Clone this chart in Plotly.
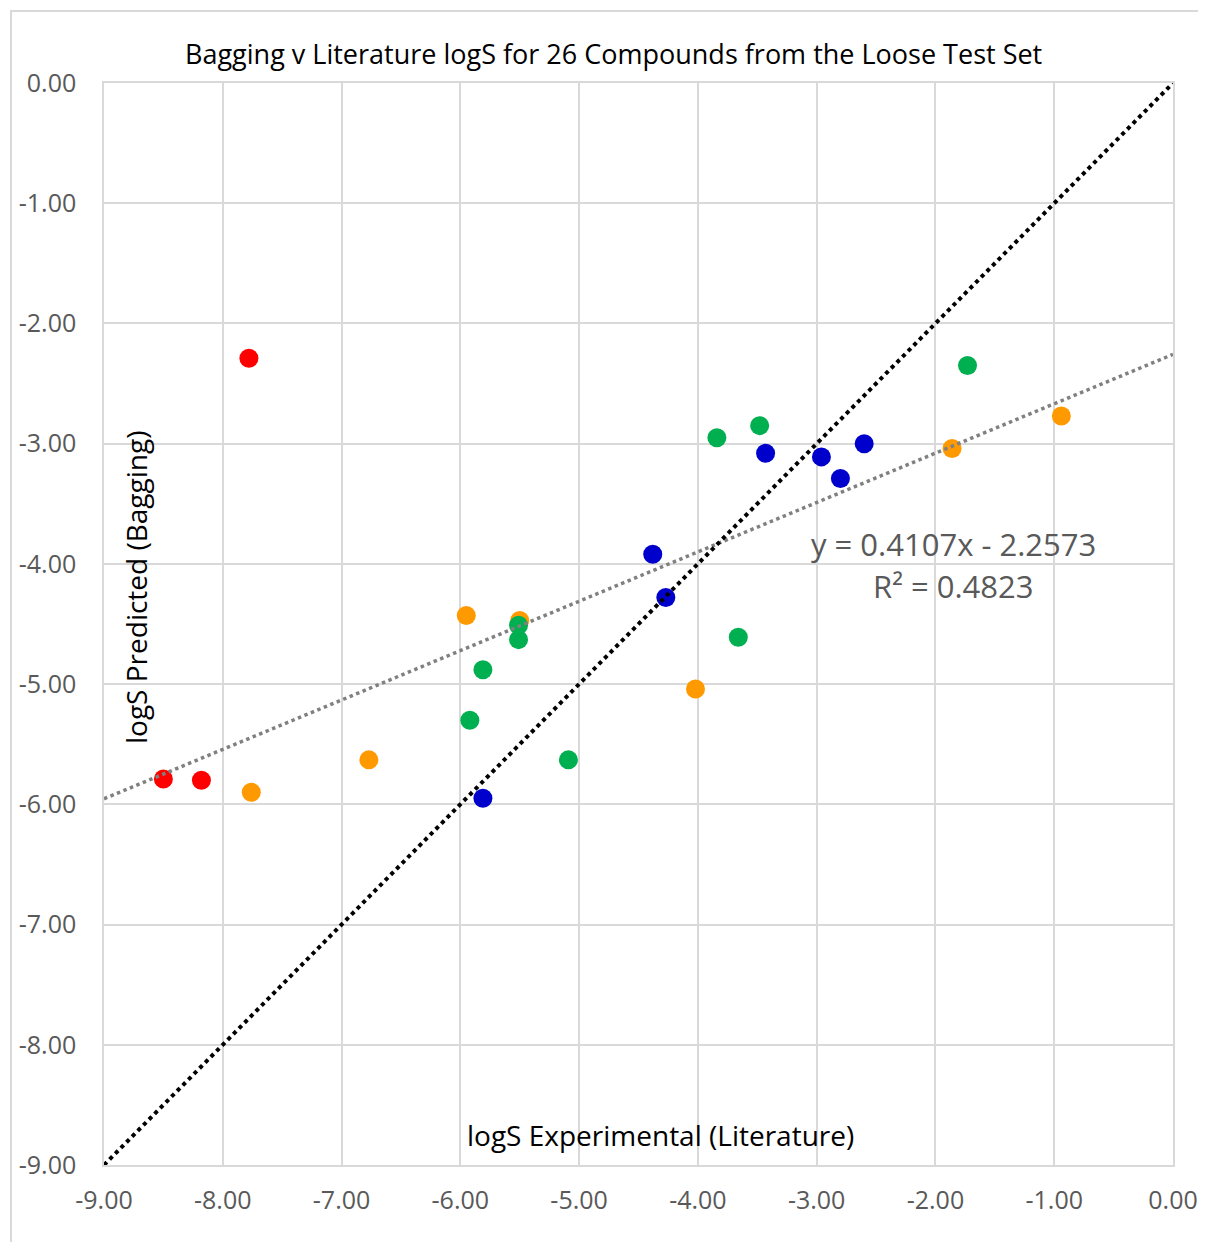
import plotly.graph_objects as go

# Data
red_x = [-7.78, -8.50, -8.18]
red_y = [-2.29, -5.79, -5.80]

orange_x = [-7.76, -6.77, -5.95, -5.50, -4.02, -1.86, -0.94]
orange_y = [-5.90, -5.63, -4.43, -4.47, -5.04, -3.04, -2.77]

green_x = [-1.73, -3.48, -3.84, -5.51, -5.51, -5.81, -5.92, -5.09, -3.66]
green_y = [-2.35, -2.85, -2.95, -4.51, -4.63, -4.88, -5.30, -5.63, -4.61]

blue_x = [-4.38, -4.27, -5.81, -3.43, -2.96, -2.80, -2.60]
blue_y = [-3.92, -4.28, -5.95, -3.08, -3.11, -3.29, -3.00]

trend_slope = 0.4107
trend_intercept = -2.2573
line_x = [-9.0, 0.0]

tick_vals = [-9, -8, -7, -6, -5, -4, -3, -2, -1, 0]
tick_text = ["-9.00", "-8.00", "-7.00", "-6.00", "-5.00", "-4.00", "-3.00", "-2.00", "-1.00", "0.00"]

FONT = "Open Sans"
OFF = 8  # page body margin
W, H = 1206 - 2 * OFF, 1250 - 2 * OFF
# plot area in page pixels: left 104, top 83, right 1173, bottom 1165
L = 104 - OFF
T = 83 - OFF
R = W - (1173 - OFF)
B = H - (1165 - OFF)

fig = go.Figure()
marker_size = 19
for xs, ys, col in [(red_x, red_y, "#FF0000"), (orange_x, orange_y, "#FF9900"),
                    (green_x, green_y, "#00B050"), (blue_x, blue_y, "#0000CC")]:
    fig.add_trace(go.Scatter(x=xs, y=ys, mode="markers",
                             marker=dict(size=marker_size, color=col, line=dict(width=0)),
                             showlegend=False, hoverinfo="x+y"))

fig.add_trace(go.Scatter(x=line_x, y=[trend_slope * v + trend_intercept for v in line_x],
                         mode="lines", line=dict(color="#808080", width=3.5, dash="dot"),
                         showlegend=False, hoverinfo="skip"))
fig.add_trace(go.Scatter(x=line_x, y=line_x, mode="lines",
                         line=dict(color="#000000", width=4, dash="dot"),
                         showlegend=False, hoverinfo="skip"))

pw = W - L - R
ph = H - T - B
def px_x(p):  # page px -> paper coordinate
    return (p - OFF - L) / pw
def px_y(p):
    return (H - B - (p - OFF)) / ph

fig.add_shape(type="rect", xref="paper", yref="paper",
              x0=px_x(11), x1=px_x(1204), y0=px_y(1248), y1=px_y(11),
              line=dict(color="#d9d9d9", width=2), layer="below")

fig.add_annotation(text="Bagging v Literature logS for 26 Compounds from the Loose Test Set",
                   xref="paper", yref="paper", x=px_x(613), y=px_y(53),
                   showarrow=False, font=dict(family=FONT, size=27, color="#000000"),
                   xanchor="center", yanchor="middle")
fig.add_annotation(text="logS Experimental (Literature)", xref="paper", yref="paper",
                   x=px_x(660), y=px_y(1135), showarrow=False,
                   font=dict(family=FONT, size=28, color="#000000"),
                   xanchor="center", yanchor="middle")
fig.add_annotation(text="logS Predicted (Bagging)", xref="paper", yref="paper",
                   x=px_x(136), y=px_y(588), showarrow=False, textangle=-90,
                   font=dict(family=FONT, size=28, color="#000000"),
                   xanchor="center", yanchor="middle")
fig.add_annotation(text=f"y = {trend_slope}x - {abs(trend_intercept)}", xref="paper", yref="paper",
                   x=px_x(953), y=px_y(544), showarrow=False,
                   font=dict(family=FONT, size=31, color="#595959"),
                   xanchor="center", yanchor="middle")
fig.add_annotation(text="R² = 0.4823", xref="paper", yref="paper",
                   x=px_x(953), y=px_y(586), showarrow=False,
                   font=dict(family=FONT, size=31, color="#595959"),
                   xanchor="center", yanchor="middle")

axis_common = dict(showgrid=True, gridcolor="#d9d9d9", gridwidth=1.5,
                   zeroline=False, showline=True, linecolor="#d9d9d9", linewidth=1.5,
                   mirror=True, tickvals=tick_vals, ticktext=tick_text,
                   tickfont=dict(family=FONT, size=25, color="#595959"),
                   ticks="", fixedrange=True, automargin=False,
                   ticklabeloverflow="allow")

fig.update_layout(
    width=W, height=H,
    margin=dict(l=L, r=R, t=T, b=B, autoexpand=False),
    paper_bgcolor="white", plot_bgcolor="white",
    xaxis=dict(range=[-9, 0], ticklabelstandoff=12, **axis_common),
    yaxis=dict(range=[-9, 0], ticklabelstandoff=21, **axis_common),
    showlegend=False,
)

fig.write_html("out.html")
